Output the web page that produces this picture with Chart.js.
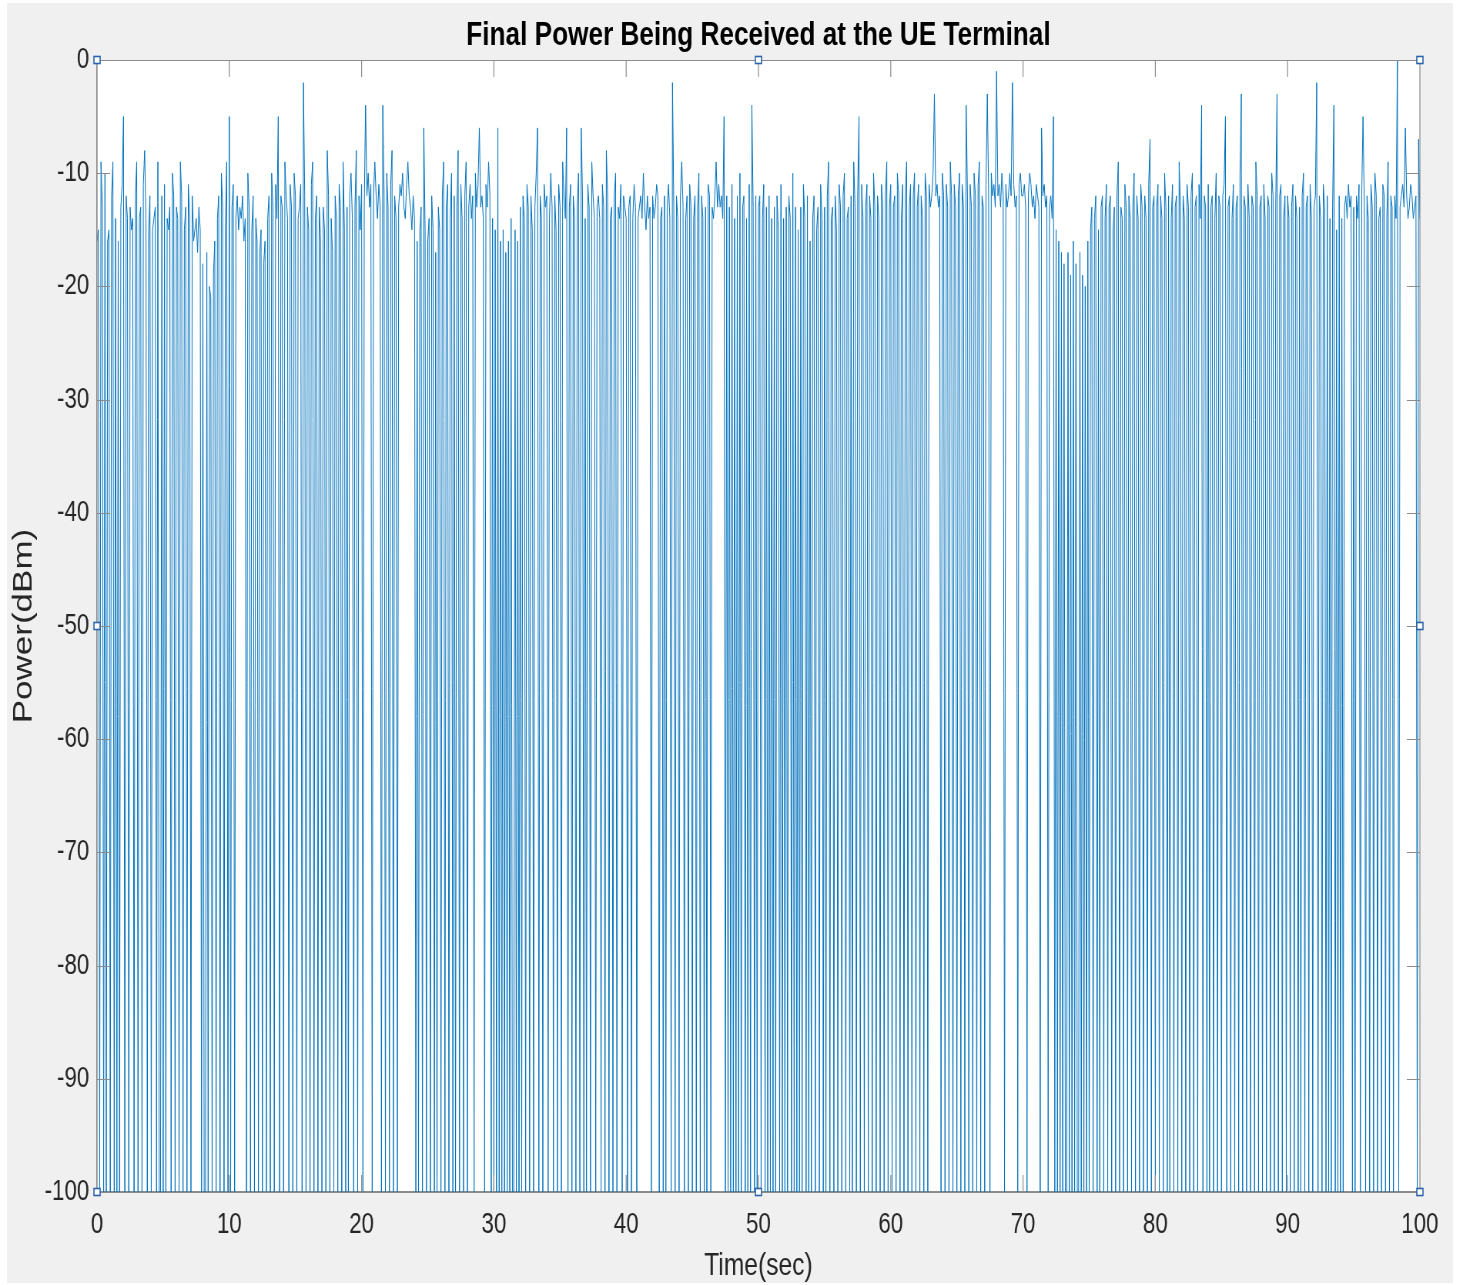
<!DOCTYPE html>
<html>
<head>
<meta charset="utf-8">
<script src="https://cdn.jsdelivr.net/npm/chart.js@4.4.1/dist/chart.umd.min.js"></script>
<style>
  body { margin: 0; background: #ffffff; }
  canvas { display: block; }
</style>
</head>
<body>
<!-- the reference figure is squeezed horizontally, so draw wider and let css squeeze it -->
<canvas id="myChart" width="1900" height="1285" style="width:1463px;height:1285px"></canvas>
<script>
// received power (dBm), one sample every 0.1 s, split per 10 seconds
let power00 = [
  -16, -15, -100, -9, -13, -100, -10, -100, -16, -15,
  -100, -12, -9, -100, -14, -100, -16, -100, -13, -11,
  -5, -100, -12, -14, -100, -13, -15, -14, -100, -12,
  -9, -100, -14, -13, -100, -11, -8, -14, -100, -15,
  -12, -100, -15, -14, -13, -100, -9, -100, -100, -12,
  -100, -11, -100, -14, -15, -13, -100, -10, -12, -100,
  -13, -14, -100, -9, -12, -100, -15, -13, -100, -11,
  -14, -100, -12, -16, -15, -14, -17, -13, -15, -100,
  -18, -100, -100, -17, -100, -20, -21, -100, -19, -16,
  -100, -14, -12, -100, -10, -13, -100, -15, -9, -100
];
let power10 = [
  -5, -100, -13, -11, -100, -14, -12, -15, -13, -14,
  -12, -16, -14, -100, -10, -13, -100, -15, -12, -100,
  -14, -16, -100, -17, -15, -100, -18, -16, -100, -14,
  -12, -100, -10, -13, -100, -11, -14, -5, -100, -12,
  -13, -100, -9, -12, -14, -100, -11, -13, -100, -10,
  -12, -100, -14, -13, -11, -100, -2, -12, -100, -13,
  -15, -100, -11, -9, -100, -14, -12, -100, -13, -16,
  -100, -13, -15, -100, -8, -12, -100, -14, -17, -100,
  -12, -14, -100, -11, -13, -100, -9, -15, -100, -13,
  -100, -12, -10, -14, -100, -13, -8, -100, -12, -15
];
let power20 = [
  -11, -100, -13, -4, -12, -10, -13, -11, -100, -12,
  -9, -12, -14, -11, -13, -100, -4, -12, -100, -10,
  -13, -100, -11, -8, -100, -12, -14, -100, -13, -11,
  -12, -10, -13, -14, -11, -9, -12, -13, -15, -12,
  -14, -100, -16, -100, -15, -13, -100, -6, -15, -100,
  -16, -14, -100, -12, -15, -100, -17, -100, -13, -15,
  -100, -12, -9, -100, -13, -11, -100, -14, -10, -100,
  -12, -100, -13, -8, -100, -11, -14, -100, -12, -9,
  -100, -13, -11, -14, -12, -100, -10, -13, -11, -6,
  -13, -12, -14, -100, -11, -13, -9, -12, -100, -14
];
let power30 = [
  -100, -15, -100, -6, -100, -16, -100, -15, -100, -17,
  -100, -16, -100, -14, -100, -100, -15, -100, -16, -100,
  -13, -100, -12, -14, -100, -11, -13, -100, -12, -15,
  -100, -13, -10, -6, -100, -12, -14, -100, -11, -13,
  -12, -100, -14, -10, -13, -100, -12, -15, -100, -11,
  -13, -100, -9, -12, -14, -6, -100, -13, -11, -100,
  -12, -14, -100, -13, -10, -100, -6, -12, -100, -14,
  -100, -11, -13, -100, -9, -12, -14, -100, -13, -12,
  -14, -100, -11, -13, -100, -8, -12, -100, -14, -13,
  -100, -12, -10, -100, -13, -14, -11, -100, -12, -13
];
let power40 = [
  -14, -100, -13, -12, -100, -14, -11, -13, -100, -14,
  -13, -12, -14, -10, -13, -15, -12, -14, -13, -100,
  -12, -14, -13, -11, -12, -100, -14, -13, -100, -12,
  -100, -13, -11, -14, -100, -2, -13, -100, -12, -14,
  -100, -12, -9, -13, -100, -14, -12, -100, -11, -13,
  -100, -14, -12, -100, -13, -10, -100, -12, -14, -100,
  -13, -100, -11, -12, -100, -13, -14, -12, -9, -13,
  -11, -13, -12, -14, -5, -100, -12, -100, -13, -100,
  -11, -100, -14, -100, -12, -100, -10, -100, -13, -12,
  -100, -14, -100, -11, -100, -4, -13, -100, -12, -100
];
let power50 = [
  -13, -12, -100, -14, -11, -100, -13, -100, -12, -100,
  -14, -100, -13, -100, -12, -15, -100, -11, -100, -14,
  -100, -13, -100, -12, -14, -100, -10, -100, -13, -100,
  -15, -100, -13, -100, -11, -14, -100, -12, -100, -16,
  -100, -14, -12, -100, -15, -13, -100, -11, -14, -100,
  -13, -100, -12, -9, -100, -14, -13, -100, -12, -15,
  -100, -11, -13, -100, -12, -10, -100, -14, -13, -100,
  -12, -100, -9, -13, -100, -12, -5, -100, -11, -14,
  -100, -13, -11, -100, -12, -14, -100, -10, -13, -100,
  -12, -14, -100, -11, -13, -100, -12, -9, -100, -13
];
let power60 = [
  -11, -100, -13, -12, -100, -10, -12, -100, -14, -11,
  -100, -12, -9, -100, -13, -11, -100, -12, -10, -100,
  -13, -11, -100, -12, -14, -100, -10, -12, -100, -11,
  -13, -12, -10, -3, -12, -11, -13, -12, -100, -10,
  -12, -100, -11, -13, -100, -9, -12, -100, -11, -13,
  -100, -12, -10, -100, -11, -13, -100, -4, -12, -100,
  -11, -13, -100, -10, -12, -100, -11, -9, -100, -12,
  -13, -100, -11, -3, -12, -100, -10, -12, -11, -13,
  -1, -12, -11, -13, -10, -12, -100, -11, -13, -12,
  -10, -12, -2, -11, -13, -12, -100, -11, -10, -12
];
let power70 = [
  -12, -11, -13, -100, -12, -10, -11, -13, -12, -14,
  -11, -12, -13, -100, -6, -12, -11, -13, -12, -100,
  -13, -12, -14, -5, -100, -15, -100, -16, -100, -17,
  -100, -18, -100, -100, -17, -100, -19, -100, -16, -100,
  -18, -100, -100, -17, -100, -19, -100, -20, -100, -16,
  -100, -15, -13, -100, -14, -12, -100, -15, -100, -13,
  -12, -100, -14, -11, -100, -13, -12, -100, -15, -13,
  -100, -12, -9, -100, -13, -14, -100, -11, -13, -100,
  -12, -14, -100, -13, -10, -100, -12, -14, -100, -11,
  -13, -100, -12, -14, -100, -11, -7, -100, -13, -12
];
let power80 = [
  -100, -13, -11, -100, -12, -14, -100, -10, -13, -100,
  -12, -100, -14, -11, -100, -13, -12, -100, -9, -13,
  -100, -12, -14, -100, -11, -13, -100, -12, -10, -100,
  -13, -12, -100, -11, -14, -4, -100, -12, -13, -100,
  -11, -100, -13, -12, -100, -14, -10, -100, -12, -13,
  -100, -12, -11, -5, -100, -13, -12, -100, -14, -11,
  -100, -13, -12, -100, -10, -3, -100, -12, -13, -100,
  -11, -14, -100, -12, -13, -100, -9, -12, -100, -13,
  -12, -100, -11, -14, -100, -12, -13, -100, -10, -12,
  -100, -13, -3, -100, -12, -11, -100, -14, -12, -100
];
let power90 = [
  -12, -14, -100, -13, -11, -100, -12, -14, -100, -13,
  -100, -12, -10, -100, -13, -12, -100, -11, -14, -100,
  -13, -12, -2, -100, -12, -14, -100, -11, -13, -100,
  -12, -100, -14, -100, -13, -4, -100, -15, -100, -12,
  -100, -14, -100, -13, -12, -14, -11, -13, -12, -100,
  -13, -100, -12, -14, -11, -100, -12, -5, -13, -100,
  -12, -14, -100, -11, -13, -100, -10, -12, -100, -14,
  -13, -100, -11, -12, -100, -14, -9, -100, -12, -13,
  -100, -12, -14, 0, -100, -13, -12, -11, -13, -6,
  -12, -14, -13, -11, -12, -14, -13, -12, -100, -7,
  -14
];

let sampleStep = 0.1;
let xTicks = [0, 10, 20, 30, 40, 50, 60, 70, 80, 90, 100];
let yTicks = [0, -10, -20, -30, -40, -50, -60, -70, -80, -90, -100];

let chartTitle = 'Final Power Being Received at the UE Terminal';
let xTitle = 'Time(sec)';
let yTitle = 'Power(dBm)';

let power = [].concat(power00, power10, power20, power30, power40,
                      power50, power60, power70, power80, power90);
let points = power.map((v, i) => ({ x: Math.round(i * sampleStep * 10) / 10, y: v }));

let fontFamily = '"Liberation Sans", Arial, Helvetica, sans-serif';
let axisGray = '#8c8c8c';
let textColor = '#262626';

let matlabFrame = {
    id: 'matlabFrame',
    afterLayout(chart) {
        // matlab centres the title over the axes, not over the figure
        let a = chart.chartArea;
        let tb = chart.titleBlock;
        if (tb) {
            tb.left = a.left;
            tb.right = a.right;
            tb.width = a.right - a.left;
        }
    },
    beforeDraw(chart) {
        let c = chart.ctx;
        let a = chart.chartArea;
        c.save();
        c.fillStyle = '#ffffff';
        c.fillRect(0, 0, chart.width, chart.height);
        c.fillStyle = '#f0f0f0';
        c.fillRect(9, 3, chart.width - 22, chart.height - 5);
        c.fillStyle = '#ffffff';
        c.fillRect(a.left, a.top, a.right - a.left, a.bottom - a.top);
        c.restore();
    },
    afterDatasetsDraw(chart) {
        let c = chart.ctx;
        let a = chart.chartArea;
        let xs = chart.scales.x;
        let ys = chart.scales.y;
        c.save();
        c.strokeStyle = axisGray;
        c.lineWidth = 1.2;
        c.beginPath();
        c.rect(a.left, a.top + 0.5, a.right - a.left, a.bottom - a.top);
        xTicks.forEach(t => {
            let px = xs.getPixelForValue(t);
            c.moveTo(px, a.bottom); c.lineTo(px, a.bottom - 17);
            c.moveTo(px, a.top); c.lineTo(px, a.top + 17);
        });
        yTicks.forEach(t => {
            let py = Math.round(ys.getPixelForValue(t)) + 0.5;
            c.moveTo(a.left, py); c.lineTo(a.left + 17, py);
            c.moveTo(a.right, py); c.lineTo(a.right - 17, py);
        });
        c.stroke();

        // figure selection handles
        c.fillStyle = '#ffffff';
        c.strokeStyle = '#2b62a8';
        c.lineWidth = 1.6;
        [[0, 0], [50, 0], [100, 0], [0, -50], [100, -50], [0, -100], [50, -100], [100, -100]].forEach(h => {
            let px = xs.getPixelForValue(h[0]);
            let py = ys.getPixelForValue(h[1]);
            c.fillRect(px - 4, py - 3.5, 8, 7);
            c.strokeRect(px - 4, py - 3.5, 8, 7);
        });
        c.restore();
    }
};

let ctx = document.getElementById('myChart');
new Chart(ctx, {
    type: 'line',
    data: {
        datasets: [{
            label: 'Power',
            data: points,
            borderColor: '#0072BD',
            borderWidth: 1,
            pointRadius: 0,
            fill: false,
            tension: 0
        }]
    },
    options: {
        responsive: false,
        animation: false,
        parsing: false,
        normalized: true,
        layout: { padding: { top: 0, right: 56, bottom: 0, left: 0 } },
        plugins: {
            legend: { display: false },
            tooltip: { enabled: false },
            title: {
                display: true,
                text: chartTitle,
                color: '#000000',
                font: { family: fontFamily, size: 34, weight: 'bold', lineHeight: 1.2 },
                padding: { top: 15.6, bottom: 3.6 }
            }
        },
        scales: {
            x: {
                type: 'linear',
                min: 0,
                max: 100,
                afterBuildTicks: s => { s.ticks = xTicks.map(v => ({ value: v })); },
                afterFit: s => { s.height = 93; },
                ticks: {
                    autoSkip: false,
                    maxRotation: 0,
                    padding: 16,
                    color: textColor,
                    font: { family: fontFamily, size: 29 }
                },
                grid: { display: false, drawTicks: false, tickLength: 0 },
                border: { display: true, color: axisGray, width: 1.2 },
                title: {
                    display: true,
                    text: xTitle,
                    color: textColor,
                    font: { family: fontFamily, size: 32, lineHeight: 1.2 },
                    padding: { top: 0, bottom: 0 }
                }
            },
            y: {
                type: 'linear',
                min: -100,
                max: 0,
                afterBuildTicks: s => { s.ticks = yTicks.map(v => ({ value: v })); },
                afterFit: s => { s.width = 126; },
                ticks: {
                    padding: 10,
                    color: textColor,
                    font: { family: fontFamily, size: 29 }
                },
                grid: { display: false, drawTicks: false, tickLength: 0 },
                border: { display: true, color: axisGray, width: 1.2 },
                title: {
                    display: true,
                    text: yTitle,
                    color: textColor,
                    font: { family: fontFamily, size: 35, lineHeight: 1.2 },
                    padding: { top: 10, bottom: 0 }
                }
            }
        }
    },
    plugins: [matlabFrame]
});
</script>
</body>
</html>
